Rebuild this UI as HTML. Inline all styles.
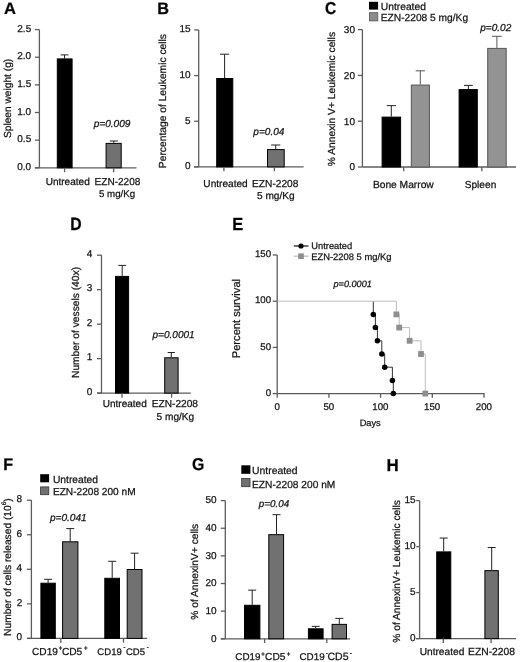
<!DOCTYPE html>
<html><head><meta charset="utf-8"><style>
html,body{margin:0;padding:0;background:#fff;}
body{width:520px;height:662px;overflow:hidden;}
svg{display:block;font-family:"Liberation Sans", sans-serif;text-rendering:geometricPrecision;filter:blur(0.35px);}
text{stroke:#141414;stroke-width:0.25px;}
</style></head><body>
<svg width="520" height="662" viewBox="0 0 520 662">
<rect width="520" height="662" fill="#fff"/>
<text transform="translate(3.89 13.60) scale(1 0.997)" font-size="16.57" font-weight="bold" fill="#000">A</text>
<line x1="39.40" y1="29.60" x2="39.40" y2="167.80" stroke="#5c5c5c" stroke-width="1.3"/>
<line x1="34.90" y1="167.80" x2="39.40" y2="167.80" stroke="#5c5c5c" stroke-width="1.3"/>
<text x="17.25" y="170.00" font-size="10.00" fill="#141414">0.0</text>
<line x1="34.90" y1="140.16" x2="39.40" y2="140.16" stroke="#5c5c5c" stroke-width="1.3"/>
<text x="17.30" y="142.36" font-size="10.00" fill="#141414">0.5</text>
<line x1="34.90" y1="112.52" x2="39.40" y2="112.52" stroke="#5c5c5c" stroke-width="1.3"/>
<text x="17.25" y="114.72" font-size="10.00" fill="#141414">1.0</text>
<line x1="34.90" y1="84.88" x2="39.40" y2="84.88" stroke="#5c5c5c" stroke-width="1.3"/>
<text x="17.30" y="87.08" font-size="10.00" fill="#141414">1.5</text>
<line x1="34.90" y1="57.24" x2="39.40" y2="57.24" stroke="#5c5c5c" stroke-width="1.3"/>
<text x="17.25" y="59.44" font-size="10.00" fill="#141414">2.0</text>
<line x1="34.90" y1="29.60" x2="39.40" y2="29.60" stroke="#5c5c5c" stroke-width="1.3"/>
<text x="17.30" y="31.80" font-size="10.00" fill="#141414">2.5</text>
<line x1="35.00" y1="167.80" x2="136.50" y2="167.80" stroke="#5c5c5c" stroke-width="1.3"/>
<line x1="64.50" y1="58.40" x2="64.50" y2="54.90" stroke="#222" stroke-width="1"/>
<line x1="60.60" y1="54.90" x2="68.40" y2="54.90" stroke="#222" stroke-width="1"/>
<rect x="57.30" y="58.90" width="14.80" height="108.90" fill="#000" stroke="#000" stroke-width="1"/>
<line x1="113.80" y1="142.90" x2="113.80" y2="141.00" stroke="#222" stroke-width="1"/>
<line x1="109.80" y1="141.00" x2="117.80" y2="141.00" stroke="#222" stroke-width="1"/>
<rect x="106.10" y="143.40" width="15.10" height="24.40" fill="#717171" stroke="#000" stroke-width="1"/>
<line x1="64.60" y1="167.80" x2="64.60" y2="172.20" stroke="#5c5c5c" stroke-width="1.3"/>
<line x1="113.70" y1="167.80" x2="113.70" y2="172.20" stroke="#5c5c5c" stroke-width="1.3"/>
<text x="45.65" y="184.60" font-size="10.05" fill="#141414">Untreated</text>
<text x="94.60" y="184.60" font-size="10.06" fill="#141414">EZN-2208</text>
<text x="99.01" y="197.40" font-size="9.72" fill="#141414">5 mg/Kg</text>
<text x="93.65" y="126.50" font-size="10.12" font-style="italic" fill="#141414">p=0.009</text>
<text x="10.90" y="138.06" font-size="10.20" transform="rotate(-90 10.90 138.06)" fill="#141414">Spleen weight (g)</text>
<text transform="translate(157.24 13.60) scale(1 1.013)" font-size="16.31" font-weight="bold" fill="#000">B</text>
<line x1="198.70" y1="29.95" x2="198.70" y2="166.90" stroke="#5c5c5c" stroke-width="1.3"/>
<line x1="194.20" y1="166.90" x2="198.70" y2="166.90" stroke="#5c5c5c" stroke-width="1.3"/>
<text x="185.00" y="169.40" font-size="10.00" fill="#141414">0</text>
<line x1="194.20" y1="121.25" x2="198.70" y2="121.25" stroke="#5c5c5c" stroke-width="1.3"/>
<text x="185.05" y="123.75" font-size="10.00" fill="#141414">5</text>
<line x1="194.20" y1="75.60" x2="198.70" y2="75.60" stroke="#5c5c5c" stroke-width="1.3"/>
<text x="179.45" y="78.10" font-size="10.00" fill="#141414">10</text>
<line x1="194.20" y1="29.95" x2="198.70" y2="29.95" stroke="#5c5c5c" stroke-width="1.3"/>
<text x="179.50" y="32.45" font-size="10.00" fill="#141414">15</text>
<line x1="194.00" y1="166.90" x2="303.60" y2="166.90" stroke="#5c5c5c" stroke-width="1.3"/>
<line x1="224.60" y1="78.00" x2="224.60" y2="54.20" stroke="#222" stroke-width="1"/>
<line x1="220.00" y1="54.20" x2="229.20" y2="54.20" stroke="#222" stroke-width="1"/>
<rect x="216.70" y="78.50" width="16.10" height="88.40" fill="#000" stroke="#000" stroke-width="1"/>
<line x1="275.70" y1="149.10" x2="275.70" y2="145.00" stroke="#222" stroke-width="1"/>
<line x1="271.10" y1="145.00" x2="280.30" y2="145.00" stroke="#222" stroke-width="1"/>
<rect x="267.50" y="149.60" width="16.70" height="17.30" fill="#717171" stroke="#000" stroke-width="1"/>
<line x1="223.90" y1="166.90" x2="223.90" y2="171.20" stroke="#5c5c5c" stroke-width="1.3"/>
<line x1="274.40" y1="166.90" x2="274.40" y2="171.20" stroke="#5c5c5c" stroke-width="1.3"/>
<text x="203.34" y="186.80" font-size="10.12" fill="#141414">Untreated</text>
<text x="252.09" y="186.80" font-size="10.17" fill="#141414">EZN-2208</text>
<text x="256.99" y="199.30" font-size="10.14" fill="#141414">5 mg/Kg</text>
<text x="253.35" y="135.10" font-size="10.05" font-style="italic" fill="#141414">p=0.04</text>
<text x="166.40" y="168.12" font-size="10.27" transform="rotate(-90 166.40 168.12)" fill="#141414">Percentage of Leukemic cells</text>
<text transform="translate(325.08 13.73) scale(1 1.108)" font-size="15.57" font-weight="bold" fill="#000">C</text>
<rect x="369.00" y="1.80" width="9.10" height="7.80" fill="#000"/>
<rect x="369.40" y="12.70" width="8.40" height="8.20" fill="#8d8d8d" stroke="#555" stroke-width="0.8"/>
<text x="380.83" y="9.60" font-size="10.26" fill="#141414">Untreated</text>
<text x="380.78" y="21.10" font-size="10.21" fill="#141414">EZN-2208 5 mg/Kg</text>
<line x1="362.40" y1="29.60" x2="362.40" y2="167.00" stroke="#5c5c5c" stroke-width="1.3"/>
<line x1="357.90" y1="167.00" x2="362.40" y2="167.00" stroke="#5c5c5c" stroke-width="1.3"/>
<text x="349.40" y="170.30" font-size="10.00" fill="#141414">0</text>
<line x1="357.90" y1="121.20" x2="362.40" y2="121.20" stroke="#5c5c5c" stroke-width="1.3"/>
<text x="343.85" y="124.50" font-size="10.00" fill="#141414">10</text>
<line x1="357.90" y1="75.40" x2="362.40" y2="75.40" stroke="#5c5c5c" stroke-width="1.3"/>
<text x="343.85" y="78.70" font-size="10.00" fill="#141414">20</text>
<line x1="357.90" y1="29.60" x2="362.40" y2="29.60" stroke="#5c5c5c" stroke-width="1.3"/>
<text x="343.85" y="32.90" font-size="10.00" fill="#141414">30</text>
<line x1="362.40" y1="167.00" x2="516.00" y2="167.00" stroke="#5c5c5c" stroke-width="1.3"/>
<line x1="391.30" y1="116.62" x2="391.30" y2="105.63" stroke="#222" stroke-width="1"/>
<line x1="386.70" y1="105.63" x2="395.90" y2="105.63" stroke="#222" stroke-width="1"/>
<rect x="382.10" y="117.12" width="18.50" height="49.88" fill="#000" stroke="#000" stroke-width="1"/>
<line x1="420.30" y1="84.56" x2="420.30" y2="70.82" stroke="#555" stroke-width="1"/>
<line x1="415.70" y1="70.82" x2="424.90" y2="70.82" stroke="#555" stroke-width="1"/>
<rect x="411.30" y="85.06" width="18.10" height="81.94" fill="#939393" stroke="#555" stroke-width="1"/>
<line x1="468.40" y1="89.10" x2="468.40" y2="85.40" stroke="#222" stroke-width="1"/>
<line x1="464.00" y1="85.40" x2="472.80" y2="85.40" stroke="#222" stroke-width="1"/>
<rect x="459.10" y="89.60" width="18.20" height="77.40" fill="#000" stroke="#000" stroke-width="1"/>
<line x1="496.90" y1="47.90" x2="496.90" y2="36.30" stroke="#555" stroke-width="1"/>
<line x1="492.10" y1="36.30" x2="501.70" y2="36.30" stroke="#555" stroke-width="1"/>
<rect x="487.70" y="48.40" width="18.50" height="118.60" fill="#939393" stroke="#555" stroke-width="1"/>
<line x1="403.70" y1="167.00" x2="403.70" y2="171.20" stroke="#5c5c5c" stroke-width="1.3"/>
<line x1="481.80" y1="167.00" x2="481.80" y2="171.20" stroke="#5c5c5c" stroke-width="1.3"/>
<text x="372.88" y="187.80" font-size="10.24" fill="#141414">Bone Marrow</text>
<text x="464.74" y="187.80" font-size="10.15" fill="#141414">Spleen</text>
<text x="480.25" y="30.90" font-size="10.05" font-style="italic" fill="#141414">p=0.02</text>
<text x="335.00" y="166.16" font-size="10.26" transform="rotate(-90 335.00 166.16)" fill="#141414">% Annexin V+ Leukemic cells</text>
<text transform="translate(70.37 230.00) scale(1 1.130)" font-size="15.77" font-weight="bold" fill="#000">D</text>
<line x1="101.50" y1="255.20" x2="101.50" y2="393.10" stroke="#5c5c5c" stroke-width="1.3"/>
<line x1="97.00" y1="393.10" x2="101.50" y2="393.10" stroke="#5c5c5c" stroke-width="1.3"/>
<text x="86.70" y="394.70" font-size="10.00" fill="#141414">0</text>
<line x1="97.00" y1="358.62" x2="101.50" y2="358.62" stroke="#5c5c5c" stroke-width="1.3"/>
<text x="86.80" y="360.23" font-size="10.00" fill="#141414">1</text>
<line x1="97.00" y1="324.15" x2="101.50" y2="324.15" stroke="#5c5c5c" stroke-width="1.3"/>
<text x="86.85" y="325.75" font-size="10.00" fill="#141414">2</text>
<line x1="97.00" y1="289.68" x2="101.50" y2="289.68" stroke="#5c5c5c" stroke-width="1.3"/>
<text x="86.75" y="291.28" font-size="10.00" fill="#141414">3</text>
<line x1="97.00" y1="255.20" x2="101.50" y2="255.20" stroke="#5c5c5c" stroke-width="1.3"/>
<text x="86.65" y="256.80" font-size="10.00" fill="#141414">4</text>
<line x1="97.00" y1="393.10" x2="190.80" y2="393.10" stroke="#5c5c5c" stroke-width="1.3"/>
<line x1="122.20" y1="275.90" x2="122.20" y2="265.40" stroke="#222" stroke-width="1"/>
<line x1="118.30" y1="265.40" x2="126.10" y2="265.40" stroke="#222" stroke-width="1"/>
<rect x="115.50" y="276.40" width="13.10" height="116.70" fill="#000" stroke="#000" stroke-width="1"/>
<line x1="171.30" y1="357.30" x2="171.30" y2="352.50" stroke="#222" stroke-width="1"/>
<line x1="167.70" y1="352.50" x2="174.90" y2="352.50" stroke="#222" stroke-width="1"/>
<rect x="164.70" y="357.80" width="13.40" height="35.30" fill="#717171" stroke="#000" stroke-width="1"/>
<line x1="122.00" y1="393.10" x2="122.00" y2="397.70" stroke="#5c5c5c" stroke-width="1.3"/>
<line x1="171.60" y1="393.10" x2="171.60" y2="397.70" stroke="#5c5c5c" stroke-width="1.3"/>
<text x="102.75" y="407.20" font-size="10.02" fill="#141414">Untreated</text>
<text x="151.69" y="407.20" font-size="10.17" fill="#141414">EZN-2208</text>
<text x="156.60" y="420.30" font-size="10.11" fill="#141414">5 mg/Kg</text>
<text x="152.55" y="338.20" font-size="10.02" font-style="italic" fill="#141414">p=0.0001</text>
<text x="78.80" y="378.02" font-size="10.26" transform="rotate(-90 78.80 378.02)" fill="#141414">Number of vessels (40x)</text>
<text transform="translate(232.33 229.70) scale(1 1.065)" font-size="16.46" font-weight="bold" fill="#000">E</text>
<line x1="277.20" y1="255.00" x2="277.20" y2="393.60" stroke="#5c5c5c" stroke-width="1.3"/>
<line x1="272.70" y1="393.60" x2="277.20" y2="393.60" stroke="#5c5c5c" stroke-width="1.3"/>
<text x="265.66" y="395.89" font-size="9.70" fill="#141414">0</text>
<line x1="272.70" y1="347.40" x2="277.20" y2="347.40" stroke="#5c5c5c" stroke-width="1.3"/>
<text x="260.27" y="349.69" font-size="9.70" fill="#141414">50</text>
<line x1="272.70" y1="301.20" x2="277.20" y2="301.20" stroke="#5c5c5c" stroke-width="1.3"/>
<text x="254.89" y="303.49" font-size="9.70" fill="#141414">100</text>
<line x1="272.70" y1="255.00" x2="277.20" y2="255.00" stroke="#5c5c5c" stroke-width="1.3"/>
<text x="254.89" y="257.29" font-size="9.70" fill="#141414">150</text>
<line x1="277.20" y1="393.60" x2="484.60" y2="393.60" stroke="#5c5c5c" stroke-width="1.3"/>
<line x1="277.20" y1="393.60" x2="277.20" y2="397.70" stroke="#5c5c5c" stroke-width="1.3"/>
<text x="274.48" y="409.50" font-size="9.70" fill="#141414">0</text>
<line x1="328.90" y1="393.60" x2="328.90" y2="397.70" stroke="#5c5c5c" stroke-width="1.3"/>
<text x="323.49" y="409.50" font-size="9.70" fill="#141414">50</text>
<line x1="380.60" y1="393.60" x2="380.60" y2="397.70" stroke="#5c5c5c" stroke-width="1.3"/>
<text x="372.33" y="409.50" font-size="9.70" fill="#141414">100</text>
<line x1="432.30" y1="393.60" x2="432.30" y2="397.70" stroke="#5c5c5c" stroke-width="1.3"/>
<text x="424.03" y="409.50" font-size="9.70" fill="#141414">150</text>
<line x1="484.00" y1="393.60" x2="484.00" y2="397.70" stroke="#5c5c5c" stroke-width="1.3"/>
<text x="475.85" y="409.50" font-size="9.70" fill="#141414">200</text>
<text x="359.66" y="426.10" font-size="9.24" fill="#141414">Days</text>
<text x="240.50" y="358.29" font-size="11.17" transform="rotate(-90 240.50 358.29)" fill="#141414">Percent survival</text>
<text x="333.53" y="287.10" font-size="9.13" font-style="italic" fill="#141414">p=0.0001</text>
<path d="M373.3,301.20 H373.3 V314.40 H375.4 V327.60 H377.4 V340.80 H381.8 V354.00 H384.7 V367.20 H392.4 V380.40 H393.3 V393.60" fill="none" stroke="#333" stroke-width="1"/>
<path d="M277.2,301.20 H396.4 V314.40 H399.2 V327.60 H409.6 V340.80 H421.0 V354.00 H425.3 V393.60" fill="none" stroke="#bdbdbd" stroke-width="1"/>
<rect x="393.50" y="311.50" width="5.80" height="5.80" fill="#8e8e8e"/>
<rect x="396.30" y="324.70" width="5.80" height="5.80" fill="#8e8e8e"/>
<rect x="406.70" y="337.90" width="5.80" height="5.80" fill="#8e8e8e"/>
<rect x="418.10" y="351.10" width="5.80" height="5.80" fill="#8e8e8e"/>
<rect x="422.40" y="390.70" width="5.80" height="5.80" fill="#8e8e8e"/>
<circle cx="373.3" cy="314.40" r="2.75" fill="#000"/>
<circle cx="375.4" cy="327.60" r="2.75" fill="#000"/>
<circle cx="377.4" cy="340.80" r="2.75" fill="#000"/>
<circle cx="381.8" cy="354.00" r="2.75" fill="#000"/>
<circle cx="384.7" cy="367.20" r="2.75" fill="#000"/>
<circle cx="392.4" cy="380.40" r="2.75" fill="#000"/>
<circle cx="393.3" cy="393.60" r="2.75" fill="#000"/>
<line x1="293.80" y1="246.00" x2="308.50" y2="246.00" stroke="#222" stroke-width="1.3"/>
<circle cx="301" cy="246.0" r="2.6" fill="#000"/>
<line x1="293.80" y1="256.20" x2="308.50" y2="256.20" stroke="#bdbdbd" stroke-width="1.3"/>
<rect x="298.20" y="253.40" width="5.60" height="5.60" fill="#8e8e8e"/>
<text x="311.30" y="249.00" font-size="9.32" fill="#141414">Untreated</text>
<text x="311.25" y="259.60" font-size="9.40" fill="#141414">EZN-2208 5 mg/Kg</text>
<text transform="translate(3.20 470.25) scale(1 1.044)" font-size="16.18" font-weight="bold" fill="#000">F</text>
<rect x="40.20" y="474.20" width="8.90" height="8.10" fill="#000"/>
<rect x="40.60" y="486.90" width="8.20" height="7.80" fill="#717171" stroke="#333" stroke-width="0.8"/>
<text x="52.93" y="482.70" font-size="10.28" fill="#141414">Untreated</text>
<text x="52.89" y="495.40" font-size="10.15" fill="#141414">EZN-2208 200 nM</text>
<line x1="31.40" y1="500.20" x2="31.40" y2="638.40" stroke="#5c5c5c" stroke-width="1.3"/>
<line x1="26.90" y1="638.40" x2="31.40" y2="638.40" stroke="#5c5c5c" stroke-width="1.3"/>
<text x="16.50" y="640.20" font-size="10.00" fill="#141414">0</text>
<line x1="26.90" y1="603.85" x2="31.40" y2="603.85" stroke="#5c5c5c" stroke-width="1.3"/>
<text x="16.65" y="605.65" font-size="10.00" fill="#141414">2</text>
<line x1="26.90" y1="569.30" x2="31.40" y2="569.30" stroke="#5c5c5c" stroke-width="1.3"/>
<text x="16.45" y="571.10" font-size="10.00" fill="#141414">4</text>
<line x1="26.90" y1="534.75" x2="31.40" y2="534.75" stroke="#5c5c5c" stroke-width="1.3"/>
<text x="16.55" y="536.55" font-size="10.00" fill="#141414">6</text>
<line x1="26.90" y1="500.20" x2="31.40" y2="500.20" stroke="#5c5c5c" stroke-width="1.3"/>
<text x="16.55" y="502.00" font-size="10.00" fill="#141414">8</text>
<line x1="27.00" y1="638.40" x2="147.00" y2="638.40" stroke="#5c5c5c" stroke-width="1.3"/>
<line x1="48.10" y1="582.70" x2="48.10" y2="579.30" stroke="#222" stroke-width="1"/>
<line x1="44.10" y1="579.30" x2="52.10" y2="579.30" stroke="#222" stroke-width="1"/>
<rect x="40.90" y="583.20" width="14.40" height="55.20" fill="#000" stroke="#000" stroke-width="1"/>
<line x1="70.20" y1="541.30" x2="70.20" y2="528.60" stroke="#222" stroke-width="1"/>
<line x1="66.20" y1="528.60" x2="74.20" y2="528.60" stroke="#222" stroke-width="1"/>
<rect x="62.60" y="541.80" width="15.30" height="96.60" fill="#717171" stroke="#000" stroke-width="1"/>
<line x1="112.20" y1="577.80" x2="112.20" y2="561.30" stroke="#222" stroke-width="1"/>
<line x1="108.20" y1="561.30" x2="116.20" y2="561.30" stroke="#222" stroke-width="1"/>
<rect x="104.80" y="578.30" width="14.70" height="60.10" fill="#000" stroke="#000" stroke-width="1"/>
<line x1="134.60" y1="569.00" x2="134.60" y2="553.20" stroke="#222" stroke-width="1"/>
<line x1="130.60" y1="553.20" x2="138.60" y2="553.20" stroke="#222" stroke-width="1"/>
<rect x="127.20" y="569.50" width="14.80" height="68.90" fill="#717171" stroke="#000" stroke-width="1"/>
<line x1="60.80" y1="638.40" x2="60.80" y2="642.70" stroke="#5c5c5c" stroke-width="1.3"/>
<line x1="123.50" y1="638.40" x2="123.50" y2="642.70" stroke="#5c5c5c" stroke-width="1.3"/>
<text x="32.10" y="654.90" font-size="10.08" fill="#141414">CD19</text>
<text x="58.76" y="649.70" font-size="6.00" font-weight="bold" fill="#141414">+</text>
<text x="61.89" y="654.90" font-size="10.21" fill="#141414">CD5</text>
<text x="83.96" y="649.70" font-size="6.00" font-weight="bold" fill="#141414">+</text>
<text x="97.32" y="654.90" font-size="9.59" fill="#141414">CD19</text>
<text x="123.38" y="648.70" font-size="5.50" font-weight="bold" fill="#141414">-</text>
<text x="125.92" y="654.90" font-size="9.53" fill="#141414">CD5</text>
<text x="146.78" y="648.70" font-size="5.50" font-weight="bold" fill="#141414">-</text>
<text x="49.95" y="521.20" font-size="10.11" font-style="italic" fill="#141414">p=0.041</text>
<text x="10.60" y="635.92" font-size="10.23" transform="rotate(-90 10.60 635.92)" fill="#141414">Number of cells released (10<tspan font-size="6.5" dy="-5">6</tspan><tspan dy="5">)</tspan></text>
<text transform="translate(192.07 470.33) scale(1 1.084)" font-size="15.85" font-weight="bold" fill="#000">G</text>
<rect x="241.30" y="465.30" width="9.10" height="8.50" fill="#000"/>
<rect x="241.70" y="478.40" width="8.30" height="8.30" fill="#717171" stroke="#333" stroke-width="0.8"/>
<text x="252.12" y="473.80" font-size="10.35" fill="#141414">Untreated</text>
<text x="252.08" y="487.50" font-size="10.20" fill="#141414">EZN-2208 200 nM</text>
<line x1="225.30" y1="500.60" x2="225.30" y2="638.80" stroke="#5c5c5c" stroke-width="1.3"/>
<line x1="220.80" y1="638.80" x2="225.30" y2="638.80" stroke="#5c5c5c" stroke-width="1.3"/>
<text x="211.00" y="641.60" font-size="10.00" fill="#141414">0</text>
<line x1="220.80" y1="611.16" x2="225.30" y2="611.16" stroke="#5c5c5c" stroke-width="1.3"/>
<text x="205.45" y="613.96" font-size="10.00" fill="#141414">10</text>
<line x1="220.80" y1="583.52" x2="225.30" y2="583.52" stroke="#5c5c5c" stroke-width="1.3"/>
<text x="205.45" y="586.32" font-size="10.00" fill="#141414">20</text>
<line x1="220.80" y1="555.88" x2="225.30" y2="555.88" stroke="#5c5c5c" stroke-width="1.3"/>
<text x="205.45" y="558.68" font-size="10.00" fill="#141414">30</text>
<line x1="220.80" y1="528.24" x2="225.30" y2="528.24" stroke="#5c5c5c" stroke-width="1.3"/>
<text x="205.45" y="531.04" font-size="10.00" fill="#141414">40</text>
<line x1="220.80" y1="500.60" x2="225.30" y2="500.60" stroke="#5c5c5c" stroke-width="1.3"/>
<text x="205.45" y="503.40" font-size="10.00" fill="#141414">50</text>
<line x1="220.80" y1="638.80" x2="350.00" y2="638.80" stroke="#5c5c5c" stroke-width="1.3"/>
<line x1="252.20" y1="604.80" x2="252.20" y2="590.15" stroke="#222" stroke-width="1"/>
<line x1="248.20" y1="590.15" x2="256.20" y2="590.15" stroke="#222" stroke-width="1"/>
<rect x="244.50" y="605.30" width="15.40" height="33.50" fill="#000" stroke="#000" stroke-width="1"/>
<line x1="276.50" y1="534.87" x2="276.50" y2="514.70" stroke="#222" stroke-width="1"/>
<line x1="272.50" y1="514.70" x2="280.50" y2="514.70" stroke="#222" stroke-width="1"/>
<rect x="268.80" y="534.68" width="14.80" height="104.12" fill="#717171" stroke="#000" stroke-width="1"/>
<line x1="315.70" y1="628.30" x2="315.70" y2="626.36" stroke="#222" stroke-width="1"/>
<line x1="311.70" y1="626.36" x2="319.70" y2="626.36" stroke="#222" stroke-width="1"/>
<rect x="308.40" y="628.80" width="14.70" height="10.00" fill="#000" stroke="#000" stroke-width="1"/>
<line x1="339.30" y1="623.87" x2="339.30" y2="618.35" stroke="#222" stroke-width="1"/>
<line x1="335.30" y1="618.35" x2="343.30" y2="618.35" stroke="#222" stroke-width="1"/>
<rect x="332.10" y="624.37" width="14.40" height="14.43" fill="#717171" stroke="#000" stroke-width="1"/>
<line x1="264.60" y1="638.80" x2="264.60" y2="643.00" stroke="#5c5c5c" stroke-width="1.3"/>
<line x1="326.80" y1="638.80" x2="326.80" y2="643.00" stroke="#5c5c5c" stroke-width="1.3"/>
<text x="235.31" y="660.30" font-size="9.84" fill="#141414">CD19</text>
<text x="261.16" y="655.50" font-size="6.00" font-weight="bold" fill="#141414">+</text>
<text x="265.09" y="660.30" font-size="10.16" fill="#141414">CD5</text>
<text x="286.76" y="655.50" font-size="6.00" font-weight="bold" fill="#141414">+</text>
<text x="299.51" y="660.30" font-size="9.84" fill="#141414">CD19</text>
<text x="325.98" y="655.10" font-size="5.50" font-weight="bold" fill="#141414">-</text>
<text x="327.47" y="660.30" font-size="10.52" fill="#141414">CD5</text>
<text x="349.88" y="655.10" font-size="5.50" font-weight="bold" fill="#141414">-</text>
<text x="258.85" y="507.20" font-size="9.89" font-style="italic" fill="#141414">p=0.04</text>
<text x="197.80" y="619.76" font-size="10.26" transform="rotate(-90 197.80 619.76)" fill="#141414">% of AnnexinV+ cells</text>
<text transform="translate(386.40 470.50) scale(1 1.018)" font-size="16.95" font-weight="bold" fill="#000">H</text>
<line x1="419.60" y1="500.60" x2="419.60" y2="638.60" stroke="#5c5c5c" stroke-width="1.3"/>
<line x1="416.20" y1="638.60" x2="419.60" y2="638.60" stroke="#5c5c5c" stroke-width="1.3"/>
<text x="410.00" y="641.20" font-size="10.00" fill="#141414">0</text>
<line x1="416.20" y1="592.60" x2="419.60" y2="592.60" stroke="#5c5c5c" stroke-width="1.3"/>
<text x="410.05" y="595.20" font-size="10.00" fill="#141414">5</text>
<line x1="416.20" y1="546.60" x2="419.60" y2="546.60" stroke="#5c5c5c" stroke-width="1.3"/>
<text x="404.45" y="549.20" font-size="10.00" fill="#141414">10</text>
<line x1="416.20" y1="500.60" x2="419.60" y2="500.60" stroke="#5c5c5c" stroke-width="1.3"/>
<text x="404.50" y="503.20" font-size="10.00" fill="#141414">15</text>
<line x1="416.00" y1="638.60" x2="516.00" y2="638.60" stroke="#5c5c5c" stroke-width="1.3"/>
<line x1="443.70" y1="551.38" x2="443.70" y2="538.04" stroke="#222" stroke-width="1"/>
<line x1="439.70" y1="538.04" x2="447.70" y2="538.04" stroke="#222" stroke-width="1"/>
<rect x="436.70" y="551.88" width="14.10" height="86.72" fill="#000" stroke="#000" stroke-width="1"/>
<line x1="491.70" y1="570.15" x2="491.70" y2="547.52" stroke="#222" stroke-width="1"/>
<line x1="487.70" y1="547.52" x2="495.70" y2="547.52" stroke="#222" stroke-width="1"/>
<rect x="484.90" y="570.65" width="13.40" height="67.95" fill="#717171" stroke="#000" stroke-width="1"/>
<line x1="443.30" y1="638.60" x2="443.30" y2="643.00" stroke="#5c5c5c" stroke-width="1.3"/>
<line x1="491.10" y1="638.60" x2="491.10" y2="643.00" stroke="#5c5c5c" stroke-width="1.3"/>
<text x="419.64" y="655.20" font-size="10.19" fill="#141414">Untreated</text>
<text x="468.08" y="655.20" font-size="10.30" fill="#141414">EZN-2208</text>
<text x="400.00" y="642.76" font-size="10.26" transform="rotate(-90 400.00 642.76)" fill="#141414">% of AnnexinV+ Leukemic cells</text>
</svg>
</body></html>
